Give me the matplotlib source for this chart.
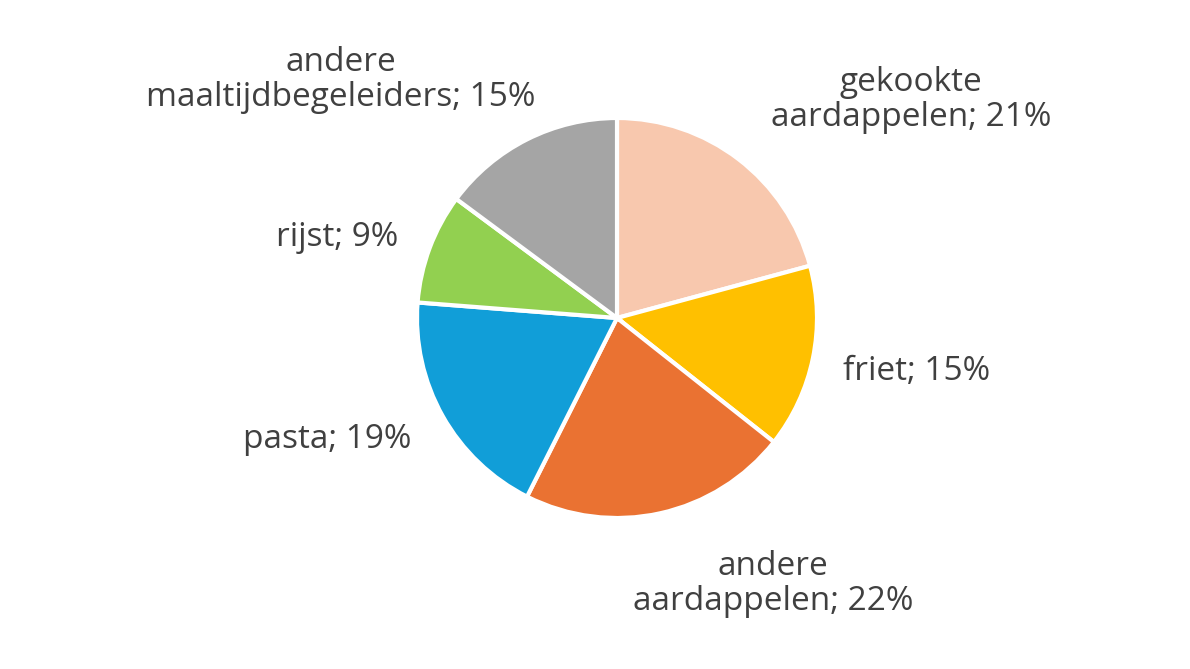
import matplotlib
matplotlib.use("Agg")
import matplotlib.pyplot as plt

categories = ["gekookte\naardappelen", "friet", "andere\naardappelen", "pasta", "rijst", "andere\nmaaltijdbegeleiders"]
values = [21, 15, 22, 19, 9, 15]
colors = ["#F8C8AE", "#FFC000", "#EA7232", "#119ED8", "#92D050", "#A5A5A5"]
label_pos = [(1.47, 1.09), (1.5, -0.27), (0.78, -1.33), (-1.45, -0.61), (-1.4, 0.4), (-1.38, 1.19)]

fig = plt.figure(figsize=(11.9, 6.69), dpi=100)
ax = fig.add_axes([(617-200)/1190, (669-318-200)/669, 400/1190, 400/669])
ax.pie(values, colors=colors, startangle=90, counterclock=False,
       wedgeprops=dict(edgecolor="white", linewidth=3))
ax.set_xlim(-1, 1); ax.set_ylim(-1, 1)
ax.set_aspect("equal")
for c, v, (x, y) in zip(categories, values, label_pos):
    ax.text(x, y, f"{c}; {v}%", ha="center", va="center", fontsize=24,
            family="Open Sans", color="#404040", clip_on=False, linespacing=1.1)
fig.savefig("out.png", dpi=100)
